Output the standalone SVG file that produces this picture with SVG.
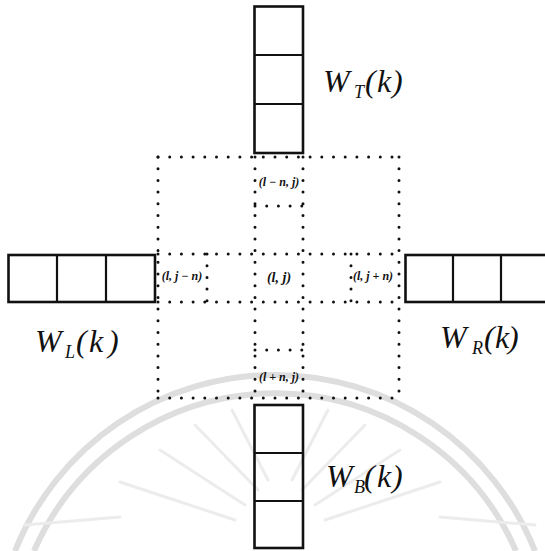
<svg xmlns="http://www.w3.org/2000/svg" width="545" height="551" viewBox="0 0 545 551">
  <style>
    .bg { fill: #ffffff; }
    .wm { fill: none; stroke: #dedede; stroke-width: 6; }
    .ray { fill: none; stroke: #ececec; stroke-width: 3; stroke-linecap: round; }
    .box { fill: none; stroke: #111; stroke-width: 2.6; }
    .div { fill: none; stroke: #111; stroke-width: 2.2; }
    .dot { fill: none; stroke: #111; stroke-width: 3; stroke-linecap: round; stroke-dasharray: 0 11.7; }
    .cell { font-family: "Liberation Serif", "DejaVu Serif", serif; font-style: italic; font-weight: bold; font-size: 12px; fill: #111; text-anchor: middle; }
    .big { font-family: "Liberation Serif", "DejaVu Serif", serif; font-style: italic; font-size: 32px; fill: #111; }
    .sub { font-size: 18px; }
  </style>
  <rect class="bg" x="0" y="0" width="545" height="551"/>

  <g id="watermark">
    <path class="wm" d="M 15 551 A 280 280 0 0 1 535 551"/>
    <path class="wm" d="M 34 551 A 263 263 0 0 1 516 551"/>
    <path class="ray" d="M 160 450 L 245 505"/>
    <path class="ray" d="M 195 425 L 258 490"/>
    <path class="ray" d="M 232 410 L 268 480"/>
    <path class="ray" d="M 400 450 L 315 505"/>
    <path class="ray" d="M 365 425 L 302 490"/>
    <path class="ray" d="M 328 410 L 292 480"/>
    <path class="ray" d="M 120 482 L 235 520"/>
    <path class="ray" d="M 440 482 L 325 520"/>
    <path class="ray" d="M 25 525 L 120 517"/>
    <path class="ray" d="M 535 525 L 440 517"/>
  </g>

  <g id="connectors">
    <path class="dot" d="M 158 157 L 399 157"/>
    <path class="dot" d="M 158 398 L 399 398"/>
    <path class="dot" d="M 158 157 L 158 398"/>
    <path class="dot" d="M 399 157 L 399 398"/>
    <path class="dot" d="M 255 157 L 255 398"/>
    <path class="dot" d="M 303 157 L 303 398"/>
    <path class="dot" d="M 158 254 L 399 254"/>
    <path class="dot" d="M 158 302 L 399 302"/>
    <path class="dot" d="M 255 206 L 303 206"/>
    <path class="dot" d="M 255 350 L 303 350"/>
    <path class="dot" d="M 207 254 L 207 302"/>
    <path class="dot" d="M 351 254 L 351 302"/>
  </g>

  <g id="node-top">
    <rect class="box" x="254.5" y="6.5" width="48.5" height="146.5"/>
    <line class="div" x1="254.5" y1="55" x2="303" y2="55"/>
    <line class="div" x1="254.5" y1="104" x2="303" y2="104"/>
    <text class="big" x="323" y="92">W<tspan class="sub" x="354" y="98">T</tspan><tspan x="365 377 392" y="92">(k)</tspan></text>
  </g>

  <g id="node-left">
    <rect class="box" x="8.5" y="255" width="146.5" height="47"/>
    <line class="div" x1="57" y1="255" x2="57" y2="302"/>
    <line class="div" x1="106" y1="255" x2="106" y2="302"/>
    <text class="big" x="35" y="352">W<tspan class="sub" x="65" y="358">L</tspan><tspan x="76 89 108" y="352">(k)</tspan></text>
  </g>

  <g id="node-right">
    <rect class="box" x="405.5" y="255" width="150" height="47"/>
    <line class="div" x1="453" y1="255" x2="453" y2="302"/>
    <line class="div" x1="501" y1="255" x2="501" y2="302"/>
    <text class="big" x="440" y="348">W<tspan class="sub" x="472" y="354">R</tspan><tspan x="484 495 508" y="348">(k)</tspan></text>
  </g>

  <g id="node-bottom">
    <rect class="box" x="254.5" y="405" width="48.5" height="143"/>
    <line class="div" x1="254.5" y1="453" x2="303" y2="453"/>
    <line class="div" x1="254.5" y1="501" x2="303" y2="501"/>
    <text class="big" x="326" y="487">W<tspan class="sub" x="354" y="493">B</tspan><tspan x="364 377 392" y="487">(k)</tspan></text>
  </g>

  <g id="cell-labels">
    <text class="cell" x="279" y="186">(l − n, j)</text>
    <text class="cell" x="182" y="280">(l, j − n)</text>
    <text class="cell" x="279" y="282" style="font-size:14px">(l, j)</text>
    <text class="cell" x="373" y="280">(l, j + n)</text>
    <text class="cell" x="279" y="381">(l + n, j)</text>
  </g>
</svg>
